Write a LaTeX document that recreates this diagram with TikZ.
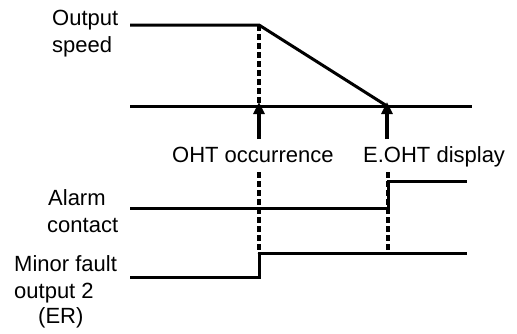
\documentclass[tikz,border=0pt]{standalone}
\usepackage{fontspec}
\setmainfont{Liberation Sans}
\usetikzlibrary{arrows.meta}
\begin{document}
\begin{tikzpicture}[x=1pt,y=-1pt,
  sig/.style={line width=3pt},
  dsh/.style={line width=3.2pt,dash pattern=on 5.5pt off 3.5pt},
  evarrow/.style={line width=3.2pt,-{Triangle[width=11pt,length=12pt]}},
  lbl/.style={inner sep=0pt,anchor=base west,font=\fontsize{22}{26}\selectfont}]
\useasboundingbox (0,0) rectangle (517,333);
% labels
\node[lbl] (l1) at (52,25) {Output};
\node[lbl] (l2) at (52,52) {speed};
\node[lbl] (l3) at (48,205) {Alarm};
\node[lbl] (l4) at (47,232) {contact};
\node[lbl] (l5) at (14,271) {Minor fault};
\node[lbl] (l6) at (14,298) {output 2};
\node[lbl] (l7) at (38,323) {(ER)};
\node[lbl] (oht) at (172,162) {OHT occurrence};
\node[lbl] (eoht) at (363,162) {E.OHT display};
% coordinates
\coordinate (s0) at (130,25);
\coordinate (s1) at (259,25);
\coordinate (s2) at (387,106);
\coordinate (b0) at (130,106);
\coordinate (b1) at (472,106);
\coordinate (t1) at (259,106);
\coordinate (tp1) at (259,102);
\coordinate (tp2) at (387,102);
\coordinate (a1) at (259,139);
\coordinate (a2) at (387,139);
\coordinate (c0) at (130,208);
\coordinate (c1) at (388,208);
\coordinate (c2) at (388,181);
\coordinate (c3) at (467,181);
\coordinate (m0) at (130,277);
\coordinate (m1) at (259,277);
\coordinate (m2) at (259,253);
\coordinate (m3) at (467,253);
\coordinate (d1) at (259,172);
\coordinate (d2) at (388,172);
\coordinate (d3) at (388,253);
% signals
\draw[sig] (s0) -- (s1) -- (s2);
\draw[sig] (b0) -- (b1);
\draw[dsh] (s1) -- (t1);
\draw[evarrow] (a1) -- (tp1);
\draw[evarrow] (a2) -- (tp2);
\draw[sig] (c0) -- (c1) -- (c2) -- (c3);
\draw[sig] (m0) -- (m1) -- (m2) -- (m3);
\draw[dsh] (d1) -- (m2);
\draw[dsh] (d2) -- (d3);
\end{tikzpicture}
\end{document}
